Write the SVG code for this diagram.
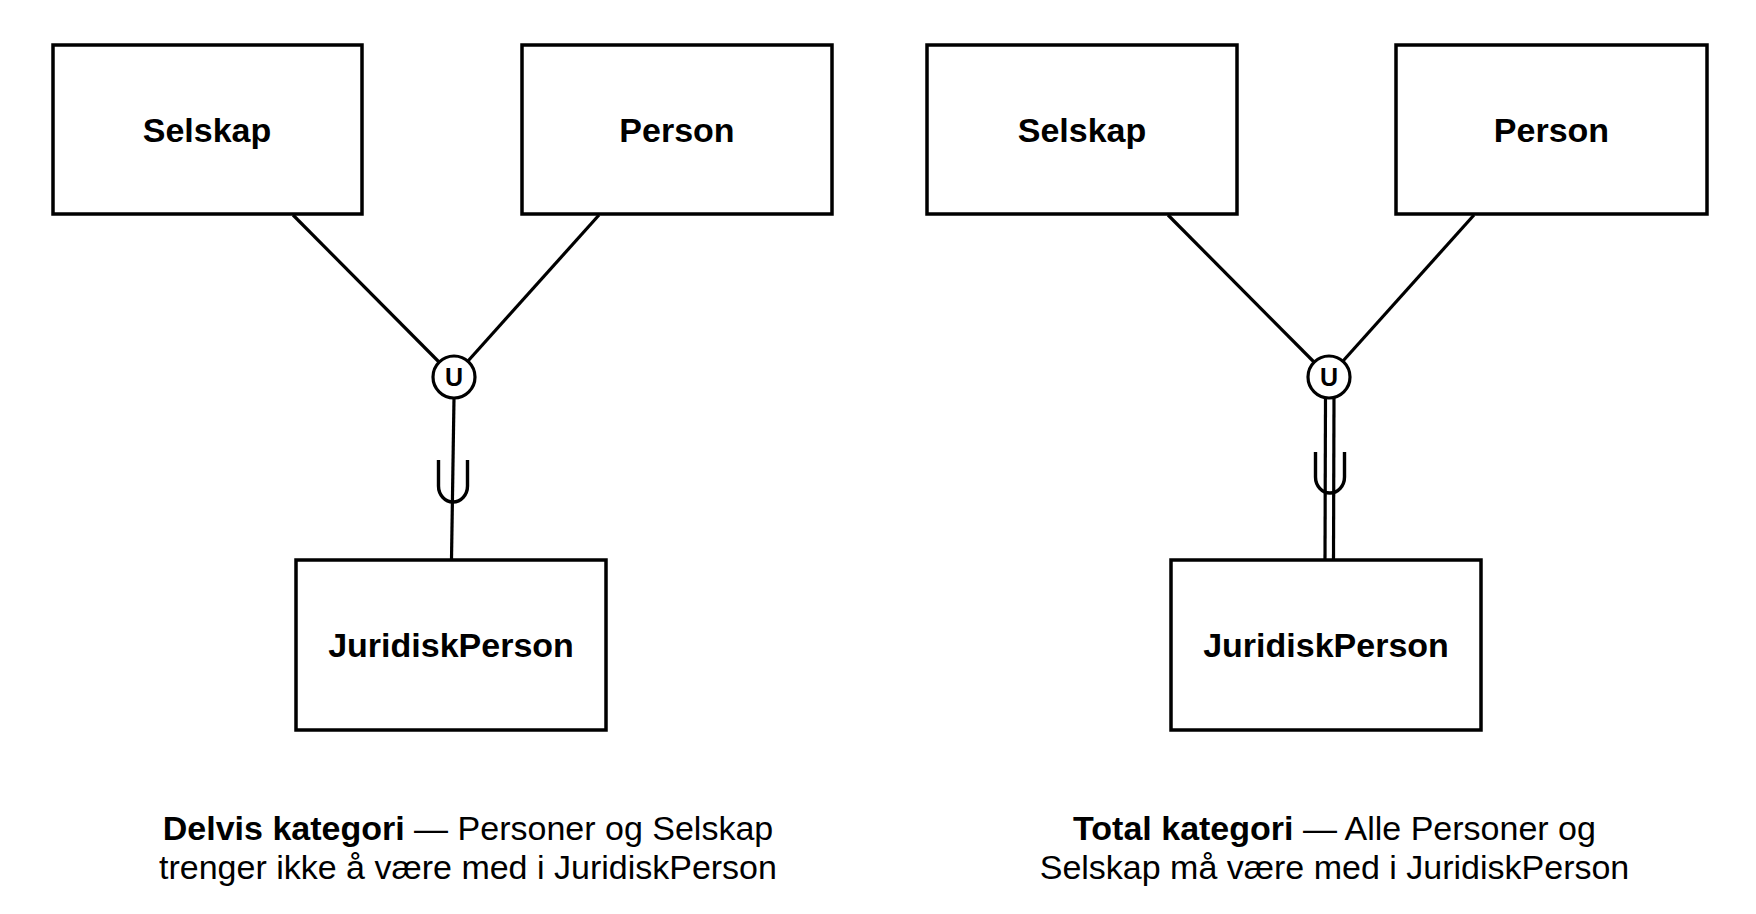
<svg xmlns="http://www.w3.org/2000/svg" width="1756" height="914" viewBox="0 0 1756 914">
<style>
.box{fill:#fff;stroke:#000;stroke-width:3.5}
.lbl{font-family:"Liberation Sans",Arial,sans-serif;font-weight:bold;font-size:34px;text-anchor:middle;fill:#000}
.ln{stroke:#000;stroke-width:3.2;fill:none}
.sub{stroke:#000;stroke-width:3.4;fill:none}
.circ{fill:#fff;stroke:#000;stroke-width:3.2}
.u{font-family:"Liberation Sans",Arial,sans-serif;font-weight:bold;font-size:25px;text-anchor:middle;fill:#000}
.cap{font-family:"Liberation Sans",Arial,sans-serif;font-size:34px;text-anchor:middle;fill:#000}
.b{font-weight:bold}
</style>
<rect width="1756" height="914" fill="#fff"/>
<g id="connectors">
  <line class="ln" x1="293" y1="215" x2="439" y2="362"/>
  <line class="ln" x1="599" y1="215" x2="468" y2="361"/>
  <line class="ln" x1="454" y1="398" x2="451.5" y2="560"/>
  <path class="sub" d="M438.5 460 L438.5 486 A14.5 16 0 0 0 467.5 486 L467.5 460"/>
  <line class="ln" x1="1168" y1="215" x2="1314" y2="362"/>
  <line class="ln" x1="1474" y1="215" x2="1343" y2="361"/>
  <line class="ln" x1="1325.5" y1="397" x2="1325" y2="560"/>
  <line class="ln" x1="1334" y1="397" x2="1333.5" y2="560"/>
  <path class="sub" d="M1315.5 452 L1315.5 477 A14.5 16 0 0 0 1344.5 477 L1344.5 452"/>
</g>
<g id="selskap1"><rect class="box" x="53" y="45" width="309" height="169"/><text class="lbl" x="207" y="141.5">Selskap</text></g>
<g id="person1"><rect class="box" x="522" y="45" width="310" height="169"/><text class="lbl" x="677" y="141.5">Person</text></g>
<g id="juridisk1"><rect class="box" x="296" y="560" width="310" height="170"/><text class="lbl" x="451" y="657">JuridiskPerson</text></g>
<g id="union1"><circle class="circ" cx="454" cy="377" r="21"/><text class="u" x="454" y="386">U</text></g>
<g id="selskap2"><rect class="box" x="927" y="45" width="310" height="169"/><text class="lbl" x="1082" y="141.5">Selskap</text></g>
<g id="person2"><rect class="box" x="1396" y="45" width="311" height="169"/><text class="lbl" x="1551.5" y="141.5">Person</text></g>
<g id="juridisk2"><rect class="box" x="1171" y="560" width="310" height="170"/><text class="lbl" x="1326" y="657">JuridiskPerson</text></g>
<g id="union2"><circle class="circ" cx="1329" cy="377" r="21"/><text class="u" x="1329" y="386">U</text></g>
<g id="caption1">
  <text class="cap" x="468" y="840"><tspan class="b">Delvis kategori</tspan> — Personer og Selskap</text>
  <text class="cap" x="468" y="879">trenger ikke å være med i JuridiskPerson</text>
</g>
<g id="caption2">
  <text class="cap" x="1334.5" y="840"><tspan class="b">Total kategori</tspan> — Alle Personer og</text>
  <text class="cap" x="1334.5" y="879">Selskap må være med i JuridiskPerson</text>
</g>
</svg>
